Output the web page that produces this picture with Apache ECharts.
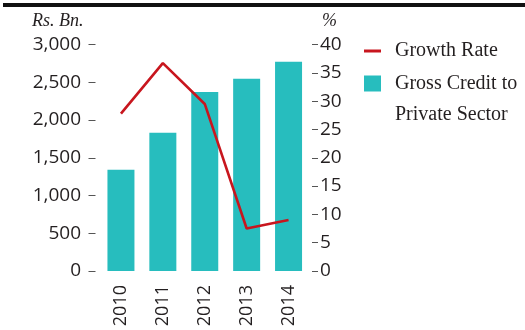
<!DOCTYPE html>
<html>
<head>
<meta charset="utf-8">
<script src="https://cdn.jsdelivr.net/npm/echarts@6/dist/echarts.min.js"></script>
<style>
  html, body { margin: 0; padding: 0; background: #fff; }
  #chart { width: 525px; height: 330px; }
</style>
</head>
<body>
<div id="chart"></div>
<script>
// Gross credit to the private sector (Rs. Bn.) and its growth rate (%)
const years = ['2010', '2011', '2012', '2013', '2014'];
const grossCredit = [1340, 1830, 2370, 2545, 2770];
const growthRate = [27.8, 36.7, 29.5, 7.5, 9.0];
const leftTicks = { min: 0, max: 3000, interval: 500 };
const rightTicks = { min: 0, max: 40, interval: 5 };

const TEAL = '#27bdbe';
const RED = '#c8161e';
const INK = '#231f20';
const NUM_FONT = 'Open Sans';
const TXT_FONT = 'Liberation Serif';

const chart = echarts.init(document.getElementById('chart'), null, { renderer: 'canvas' });

chart.setOption({
  animation: false,
  backgroundColor: '#fff',
  graphic: [
    { type: 'rect', shape: { x: 3, y: 3, width: 522, height: 4 }, style: { fill: '#111' } }
  ],
  grid: { left: 100, right: 215.5, top: 44.5, bottom: 59 },
  legend: [
    {
      left: 364, top: 35.5, padding: 0, orient: 'vertical',
      itemWidth: 17, itemHeight: 16,
      data: [{ name: 'Growth Rate', icon: 'path://M0,0 H17 V3 H0 Z', itemStyle: { color: RED } }],
      textStyle: { fontFamily: TXT_FONT, fontSize: 20, color: INK, lineHeight: 31, padding: [0, 0, 0, 9] }
    },
    {
      left: 364, top: 37, padding: 0, orient: 'vertical',
      itemWidth: 17, itemHeight: 16,
      data: [{ name: 'Gross Credit to Private Sector', icon: 'rect' }],
      // leading blank line keeps the first text line level with the swatch
      formatter: () => '\nGross Credit to\nPrivate Sector',
      textStyle: { fontFamily: TXT_FONT, fontSize: 20, color: INK, lineHeight: 31, padding: [0, 0, 0, 9] }
    }
  ],
  xAxis: {
    type: 'category',
    data: years,
    axisLine: { show: false },
    axisTick: { show: false },
    axisLabel: { rotate: 90, margin: 14, fontFamily: NUM_FONT, fontSize: 18, color: INK }
  },
  yAxis: [
    {
      type: 'value', position: 'left', offset: 4.5,
      min: leftTicks.min, max: leftTicks.max, interval: leftTicks.interval,
      name: 'Rs. Bn.', nameLocation: 'end', nameGap: 14,
      nameTextStyle: { fontFamily: TXT_FONT, fontStyle: 'italic', fontSize: 18, color: INK, align: 'right', padding: [0, 12, 0, 0] },
      splitLine: { show: false },
      axisLine: { show: false },
      axisTick: { show: true, length: 7, lineStyle: { color: '#555', width: 1 } },
      axisLabel: {
        margin: 14.5, fontFamily: NUM_FONT, fontSize: 19, color: INK,
        formatter: v => v.toLocaleString('en-US')
      }
    },
    {
      type: 'value', position: 'right', offset: 2.5,
      min: rightTicks.min, max: rightTicks.max, interval: rightTicks.interval,
      name: '%', nameLocation: 'end', nameGap: 14,
      nameTextStyle: { fontFamily: TXT_FONT, fontStyle: 'italic', fontSize: 18, color: INK, align: 'left', padding: [0, 0, 0, 10] },
      splitLine: { show: false },
      axisLine: { show: false },
      axisTick: { show: true, length: 6, lineStyle: { color: '#555', width: 1 } },
      axisLabel: { margin: 8, fontFamily: NUM_FONT, fontSize: 19, color: INK }
    }
  ],
  series: [
    {
      name: 'Gross Credit to Private Sector',
      type: 'bar',
      yAxisIndex: 0,
      barWidth: 27,
      itemStyle: { color: TEAL },
      data: grossCredit,
      z: 2
    },
    {
      name: 'Growth Rate',
      type: 'line',
      yAxisIndex: 1,
      symbol: 'none',
      lineStyle: { color: RED, width: 2.6 },
      itemStyle: { color: RED },
      data: growthRate,
      z: 3
    }
  ]
});
</script>
</body>
</html>
